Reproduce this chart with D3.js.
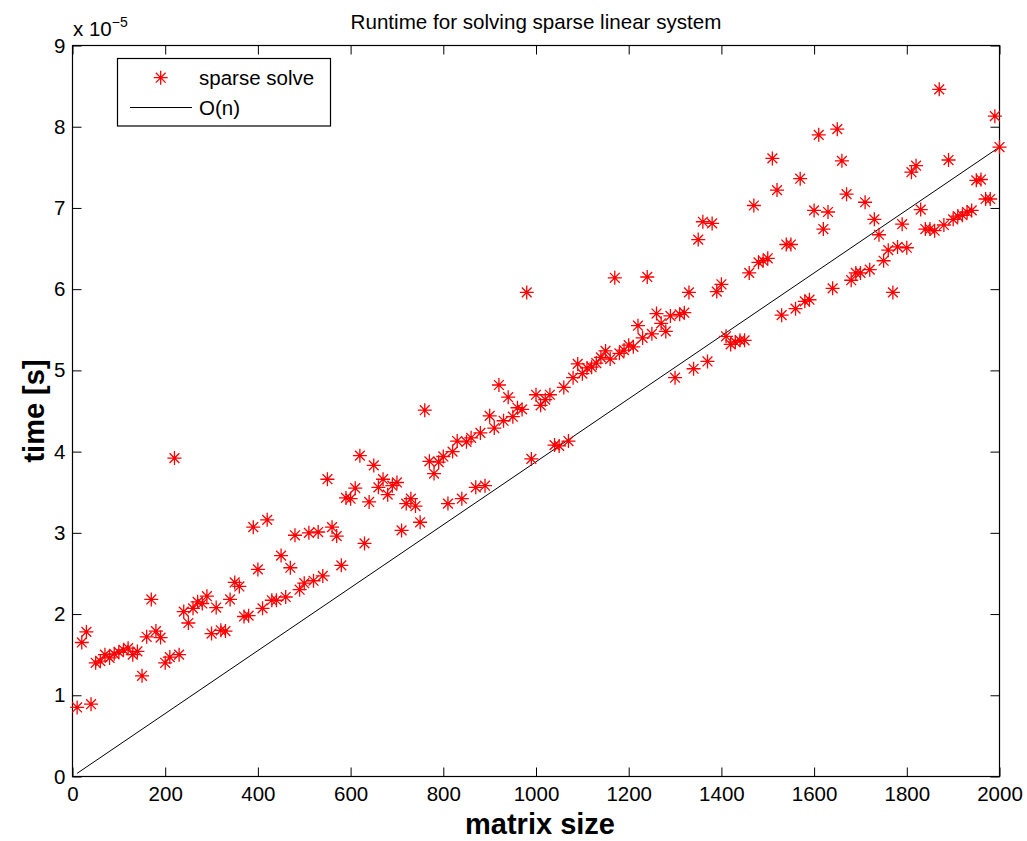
<!DOCTYPE html>
<html>
<head>
<meta charset="utf-8">
<script src="https://cdn.jsdelivr.net/npm/d3@7"></script>
<style>
  body { margin: 0; background: #fff; }
  text { font-family: "Liberation Sans", Arial, Helvetica, sans-serif; fill: #000; }
</style>
</head>
<body>
<svg id="chart" width="1027" height="841"></svg>
<script>
// matrix sizes n
const matrixSize = [
  10, 20, 30, 40, 50, 60, 70, 80, 90, 100, 110, 120, 130, 140, 150, 160, 170, 180, 190, 200,
  210, 220, 230, 240, 250, 260, 270, 280, 290, 300, 310, 320, 330, 340, 350, 360, 370, 380, 390, 400,
  410, 420, 430, 440, 450, 460, 470, 480, 490, 500, 510, 520, 530, 540, 550, 560, 570, 580, 590, 600,
  610, 620, 630, 640, 650, 660, 670, 680, 690, 700, 710, 720, 730, 740, 750, 760, 770, 780, 790, 800,
  810, 820, 830, 840, 850, 860, 870, 880, 890, 900, 910, 920, 930, 940, 950, 960, 970, 980, 990, 1000,
  1010, 1020, 1030, 1040, 1050, 1060, 1070, 1080, 1090, 1100, 1110, 1120, 1130, 1140, 1150, 1160, 1170, 1180, 1190, 1200,
  1210, 1220, 1230, 1240, 1250, 1260, 1270, 1280, 1290, 1300, 1310, 1320, 1330, 1340, 1350, 1360, 1370, 1380, 1390, 1400,
  1410, 1420, 1430, 1440, 1450, 1460, 1470, 1480, 1490, 1500, 1510, 1520, 1530, 1540, 1550, 1560, 1570, 1580, 1590, 1600,
  1610, 1620, 1630, 1640, 1650, 1660, 1670, 1680, 1690, 1700, 1710, 1720, 1730, 1740, 1750, 1760, 1770, 1780, 1790, 1800,
  1810, 1820, 1830, 1840, 1850, 1860, 1870, 1880, 1890, 1900, 1910, 1920, 1930, 1940, 1950, 1960, 1970, 1980, 1990, 2000
];

// runtime in units of 1e-5 s
const solveTime = [
  0.85, 1.65, 1.78, 0.89, 1.40, 1.42, 1.50, 1.46, 1.51, 1.53, 1.56, 1.58, 1.50, 1.54, 1.24, 1.72, 2.18, 1.79, 1.71, 1.40,
  1.47, 3.92, 1.50, 2.03, 1.89, 2.07, 2.15, 2.13, 2.22, 1.76, 2.08, 1.80, 1.79, 2.18, 2.39, 2.34, 1.97, 1.98, 3.07, 2.55,
  2.07, 3.16, 2.17, 2.17, 2.72, 2.21, 2.57, 2.97, 2.30, 2.38, 3.00, 2.41, 3.01, 2.47, 3.66, 3.07, 2.96, 2.60, 3.43, 3.42,
  3.55, 3.95, 2.87, 3.38, 3.83, 3.56, 3.66, 3.47, 3.58, 3.62, 3.03, 3.36, 3.42, 3.33, 3.13, 4.51, 3.88, 3.73, 3.87, 3.94,
  3.36, 4.00, 4.13, 3.42, 4.12, 4.17, 3.56, 4.23, 3.58, 4.44, 4.29, 4.82, 4.38, 4.67, 4.43, 4.54, 4.52, 5.96, 3.91, 4.70,
  4.57, 4.64, 4.70, 4.08, 4.07, 4.79, 4.13, 4.91, 5.08, 4.96, 5.03, 5.04, 5.09, 5.16, 5.24, 5.14, 6.14, 5.21, 5.25, 5.31,
  5.29, 5.55, 5.40, 6.15, 5.45, 5.70, 5.58, 5.48, 5.67, 4.91, 5.69, 5.71, 5.96, 5.02, 6.61, 6.83, 5.11, 6.81, 5.97, 6.06,
  5.42, 5.32, 5.35, 5.37, 5.37, 6.20, 7.03, 6.33, 6.35, 6.38, 7.61, 7.22, 5.68, 6.55, 6.55, 5.76, 7.36, 5.85, 5.87, 6.97,
  7.90, 6.74, 6.95, 6.01, 7.97, 7.58, 7.17, 6.11, 6.20, 6.20, 7.07, 6.24, 6.86, 6.67, 6.35, 6.48, 5.96, 6.52, 6.80, 6.51,
  7.44, 7.52, 6.98, 6.74, 6.74, 6.72, 8.46, 6.79, 7.59, 6.86, 6.90, 6.91, 6.95, 6.97, 7.34, 7.35, 7.11, 7.11, 8.13, 7.75
];

// O(n) reference line end points
const refSize = [10, 2000];
const refTime = [0.039, 7.75];

const xTicks = [0, 200, 400, 600, 800, 1000, 1200, 1400, 1600, 1800, 2000];
const yTicks = [0, 1, 2, 3, 4, 5, 6, 7, 8, 9];
const legendLabels = ["sparse solve", "O(n)"];

const margin = {top: 45.5, left: 72.5};
const width = 927;
const height = 731;

const svg = d3.select('#chart');
const g = svg.append('g')
  .attr('transform', `translate(${margin.left},${margin.top})`);

const x = d3.scaleLinear().domain([0, 2000]).range([0, width]);
const y = d3.scaleLinear().domain([0, 9]).range([height, 0]);

// ticks on all four sides, pointing inward
const tickLen = 9;
const styleAxis = sel => {
  sel.select('.domain').remove();
  sel.selectAll('.tick line').attr('stroke', '#000').attr('stroke-width', 1);
  sel.selectAll('.tick text')
    .attr('font-size', '20.5px')
    .attr('font-family', '"Liberation Sans", Arial, sans-serif')
    .attr('fill', '#000');
};

g.append('g')
  .attr('transform', `translate(0,${height})`)
  .call(d3.axisBottom(x).tickValues(xTicks).tickFormat(d3.format('d'))
    .tickSizeInner(-tickLen).tickSizeOuter(0).tickPadding(10))
  .call(styleAxis);

g.append('g')
  .call(d3.axisTop(x).tickValues(xTicks).tickSizeInner(-tickLen).tickSizeOuter(0).tickFormat(''))
  .call(styleAxis);

g.append('g')
  .call(d3.axisLeft(y).tickValues(yTicks).tickFormat(d3.format('d'))
    .tickSizeInner(-tickLen).tickSizeOuter(0).tickPadding(7))
  .call(styleAxis);

g.append('g')
  .attr('transform', `translate(${width},0)`)
  .call(d3.axisRight(y).tickValues(yTicks).tickSizeInner(-tickLen).tickSizeOuter(0).tickFormat(''))
  .call(styleAxis);

// axes box
g.append('rect')
  .attr('x', 0).attr('y', 0)
  .attr('width', width).attr('height', height)
  .attr('fill', 'none')
  .attr('stroke', '#000')
  .attr('stroke-width', 1.2);

// O(n) line
const refData = refSize.map((n, i) => ({n, t: refTime[i]}));
g.append('path')
  .datum(refData)
  .attr('d', d3.line().x(d => x(d.n)).y(d => y(d.t)))
  .attr('fill', 'none')
  .attr('stroke', '#000')
  .attr('stroke-width', 1);

// asterisk marker like matlab '*'
const starPath = 'M-7,0H7M0,-7V7M-4.9,-4.9L4.9,4.9M-4.9,4.9L4.9,-4.9';

const points = matrixSize.map((n, i) => ({n, t: solveTime[i]}));
g.append('g')
  .selectAll('path')
  .data(points)
  .enter()
  .append('path')
  .attr('d', starPath)
  .attr('transform', d => `translate(${x(d.n)},${y(d.t)})`)
  .attr('fill', 'none')
  .attr('stroke', '#ff0000')
  .attr('stroke-width', 1.3);

// exponent label
const expo = svg.append('text')
  .attr('x', 73)
  .attr('y', 36)
  .attr('font-size', '20.5px');
expo.append('tspan').text('x 10');
expo.append('tspan')
  .attr('font-size', '14px')
  .attr('dy', -9.5)
  .text('\u22125');

// title
svg.append('text')
  .attr('x', margin.left + width / 2)
  .attr('y', 29)
  .attr('text-anchor', 'middle')
  .attr('font-size', '20.6px')
  .text('Runtime for solving sparse linear system');

// axis labels
svg.append('text')
  .attr('x', margin.left + width / 2 + 4)
  .attr('y', 834)
  .attr('text-anchor', 'middle')
  .attr('font-size', '29px')
  .attr('font-weight', 'bold')
  .text('matrix size');

svg.append('text')
  .attr('transform', `translate(44,${margin.top + height / 2}) rotate(-90)`)
  .attr('text-anchor', 'middle')
  .attr('font-size', '29px')
  .attr('font-weight', 'bold')
  .text('time [s]');

// legend
const legend = svg.append('g');
legend.append('rect')
  .attr('x', 117.5).attr('y', 58.5)
  .attr('width', 213).attr('height', 67.5)
  .attr('fill', '#fff')
  .attr('stroke', '#000')
  .attr('stroke-width', 1.2);

legend.append('path')
  .attr('d', starPath)
  .attr('transform', 'translate(160.7,77.7)')
  .attr('fill', 'none')
  .attr('stroke', '#ff0000')
  .attr('stroke-width', 1.3);

legend.append('line')
  .attr('x1', 130).attr('x2', 192)
  .attr('y1', 107.5).attr('y2', 107.5)
  .attr('stroke', '#000')
  .attr('stroke-width', 1);

legend.selectAll('text.lbl')
  .data(legendLabels)
  .enter()
  .append('text')
  .attr('class', 'lbl')
  .attr('x', 199)
  .attr('y', (d, i) => 84.5 + i * 30)
  .attr('font-size', '20.5px')
  .text(d => d);
</script>
</body>
</html>
